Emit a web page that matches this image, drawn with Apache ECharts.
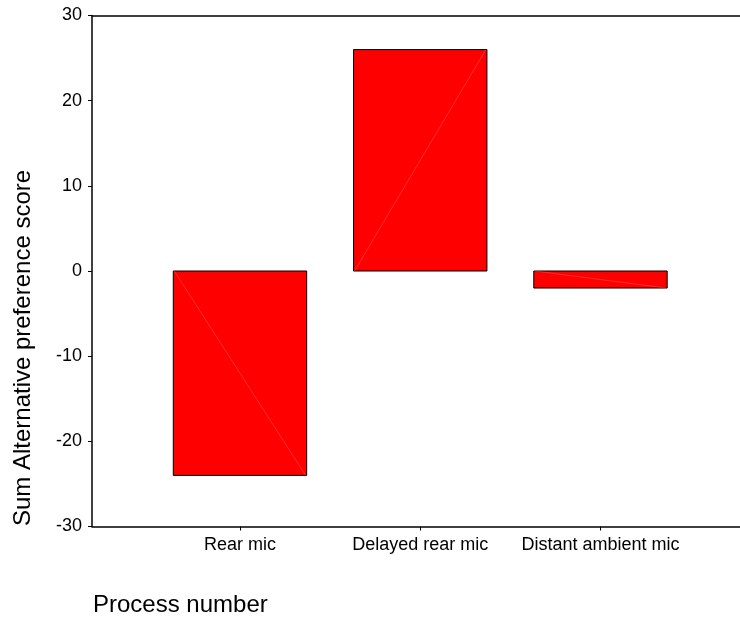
<!DOCTYPE html>
<html>
<head>
<meta charset="utf-8">
<script src="https://cdn.jsdelivr.net/npm/echarts@6/dist/echarts.min.js"></script>
<style>html,body{margin:0;padding:0;background:#fff}#c{width:740px;height:620px}</style>
</head>
<body>
<div id="c"></div>
<script>
var categories = ['Rear mic', 'Delayed rear mic', 'Distant ambient mic'];
var positions = [1, 2, 3];
var values = [-24, 26, -2];
var yTicks = [-30, -20, -10, 0, 10, 20, 30];
var yTitle = 'Sum Alternative preference score';
var xTitle = 'Process number';

var FONT = '"Liberation Sans", Arial, sans-serif';
var chart = echarts.init(document.getElementById('c'), null, {renderer: 'canvas'});
var halfWidth = 0.37;

chart.setOption({
  animation: false,
  backgroundColor: '#ffffff',
  grid: {left: 92, top: 15.5, right: 0, bottom: 93.5, containLabel: false},
  xAxis: [{
    type: 'value', position: 'bottom', min: 0.179, max: 3.774,
    axisLine: {show: true, onZero: false, lineStyle: {color: '#000', width: 1.5}},
    axisTick: {show: true, customValues: positions, length: 4, inside: false, lineStyle: {color: '#000'}},
    axisLabel: {show: true, customValues: positions, margin: 10, color: '#000', fontSize: 18, fontFamily: FONT,
      formatter: function (v) { var i = positions.indexOf(Math.round(v)); return i >= 0 ? categories[i] : ''; }},
    splitLine: {show: false}
  }, {
    type: 'value', position: 'top', min: 0.179, max: 3.774,
    axisLine: {show: true, onZero: false, lineStyle: {color: '#000', width: 1.5}},
    axisTick: {show: false}, axisLabel: {show: false}, splitLine: {show: false}
  }],
  yAxis: {
    type: 'value', min: yTicks[0], max: yTicks[yTicks.length - 1], interval: 10,
    axisLine: {show: true, onZero: false, lineStyle: {color: '#000', width: 1.5}},
    axisTick: {show: true, length: 4, lineStyle: {color: '#000'}},
    axisLabel: {margin: 10, color: '#000', fontSize: 18, fontFamily: FONT},
    splitLine: {show: false}
  },
  graphic: [{
    type: 'text', x: 23, y: 348, rotation: Math.PI / 2,
    style: {text: yTitle, fontSize: 24, fontFamily: FONT, fill: '#000', align: 'center', verticalAlign: 'middle'}
  }, {
    type: 'text', x: 93, y: 605,
    style: {text: xTitle, fontSize: 24, fontFamily: FONT, fill: '#000', align: 'left', verticalAlign: 'middle'}
  }],
  series: [{
    type: 'custom',
    data: positions.map(function (p, i) { return [p, values[i]]; }),
    encode: {x: 0, y: 1},
    renderItem: function (params, api) {
      var x = api.value(0), v = api.value(1);
      var p0 = api.coord([x - halfWidth, 0]);
      var p1 = api.coord([x + halfWidth, v]);
      var l = p0[0], r = p1[0];
      var t = Math.min(p0[1], p1[1]), b = Math.max(p0[1], p1[1]);
      return {
        type: 'group',
        children: [{
          type: 'rect',
          shape: {x: l, y: t, width: r - l, height: b - t},
          style: {fill: '#ff0000', stroke: '#000', lineWidth: 1}
        }, {
          type: 'line',
          shape: {x1: l + 1, y1: p0[1], x2: r - 1, y2: p1[1]},
          style: {stroke: 'rgba(255,150,150,0.5)', lineWidth: 0.6}
        }]
      };
    }
  }]
});
</script>
</body>
</html>
